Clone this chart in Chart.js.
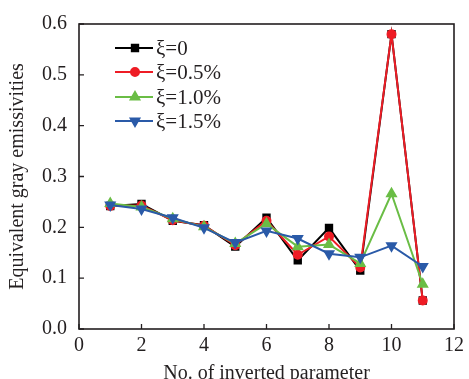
<!DOCTYPE html>
<html>
<head>
<meta charset="utf-8">
<script src="https://cdn.jsdelivr.net/npm/chart.js@4"></script>
<style>
  html, body { margin: 0; padding: 0; background: #fff; overflow: hidden; }
  #wrap { width: 469px; height: 386px; }
</style>
</head>
<body>
<div id="wrap"><canvas id="emis"></canvas></div>
<script>
var params = [1, 2, 3, 4, 5, 6, 7, 8, 9, 10, 11];
var xi0   = [0.242, 0.246, 0.213, 0.204, 0.162, 0.219, 0.135, 0.199, 0.115, 0.580, 0.056];
var xi05  = [0.242, 0.243, 0.214, 0.203, 0.165, 0.213, 0.146, 0.182, 0.121, 0.580, 0.056];
var xi10  = [0.247, 0.240, 0.217, 0.201, 0.168, 0.207, 0.162, 0.166, 0.129, 0.266, 0.088];
var xi15  = [0.244, 0.236, 0.219, 0.199, 0.170, 0.193, 0.178, 0.148, 0.141, 0.164, 0.123];
var seriesNames = ['ξ=0', 'ξ=0.5%', 'ξ=1.0%', 'ξ=1.5%'];
var xTicks = [0, 2, 4, 6, 8, 10, 12];
var yTicks = [0, 0.1, 0.2, 0.3, 0.4, 0.5, 0.6];

var serif = "'Liberation Serif', 'Times New Roman', serif";

function pts(vals) {
    return params.map(function (p, i) { return { x: p, y: vals[i] }; });
}

// box border + inward ticks on bottom/left, and the legend
var frame = {
    id: 'frame',
    afterDraw: function (chart) {
        var ctx = chart.ctx, a = chart.chartArea;
        var xs = chart.scales.x, ys = chart.scales.y;
        ctx.save();
        ctx.strokeStyle = '#231f20';
        ctx.lineWidth = 1.6;
        ctx.strokeRect(a.left, a.top, a.right - a.left, a.bottom - a.top);
        ctx.lineWidth = 1.3;
        ctx.beginPath();
        xTicks.forEach(function (t) {
            var px = xs.getPixelForValue(t);
            ctx.moveTo(px, a.bottom);
            ctx.lineTo(px, a.bottom - 5);
        });
        yTicks.forEach(function (t) {
            var py = ys.getPixelForValue(t);
            ctx.moveTo(a.left, py);
            ctx.lineTo(a.left + 5, py);
        });
        ctx.stroke();

        var rowY = [48, 72, 97, 121];
        chart.data.datasets.forEach(function (ds, i) {
            var y = rowY[i];
            ctx.strokeStyle = ds.borderColor;
            ctx.lineWidth = 2;
            ctx.beginPath();
            ctx.moveTo(115, y);
            ctx.lineTo(153, y);
            ctx.stroke();
            Chart.helpers.drawPoint(ctx, {
                pointStyle: ds.pointStyle,
                radius: ds.pointRadius,
                rotation: ds.pointRotation || 0,
                borderWidth: 1
            }, 135, y);
            ctx.fillStyle = ds.borderColor;
            ctx.fill();
            ctx.fillStyle = '#231f20';
            ctx.font = '21px ' + serif;
            ctx.textBaseline = 'middle';
            ctx.textAlign = 'left';
            ctx.fillText(ds.label, 156, y + 1);
        });
        ctx.restore();
    }
};

var colors = ['#000000', '#ee1c25', '#6abd45', '#2a5aa8'];
var styles = ['rect', 'circle', 'triangle', 'triangle'];
var radii = [4.5, 4, 5, 5];
var rots = [0, 0, 0, 180];
var allVals = [xi0, xi05, xi10, xi15];

var emisChart = new Chart(document.getElementById('emis'), {
    type: 'line',
    data: {
        datasets: allVals.map(function (v, i) {
            return {
                label: seriesNames[i],
                data: pts(v),
                order: 3 - i,
                borderColor: colors[i],
                backgroundColor: colors[i],
                pointBackgroundColor: colors[i],
                pointBorderColor: colors[i],
                borderWidth: 2,
                pointStyle: styles[i],
                pointRadius: radii[i],
                pointRotation: rots[i],
                tension: 0,
                clip: false
            };
        })
    },
    options: {
        responsive: true,
        maintainAspectRatio: false,
        animation: false,
        layout: { padding: { left: 0, top: 22, right: 11, bottom: 0 } },
        plugins: { legend: { display: false }, tooltip: { enabled: false } },
        scales: {
            x: {
                type: 'linear',
                min: 0,
                max: 12,
                afterFit: function (s) { s.height = 57; },
                afterBuildTicks: function (s) { s.ticks = xTicks.map(function (v) { return { value: v }; }); },
                grid: { display: false, drawTicks: false },
                border: { display: false },
                ticks: { color: '#231f20', padding: 5, font: { family: serif, size: 20 } },
                title: {
                    display: true,
                    text: 'No. of inverted parameter',
                    color: '#231f20',
                    padding: { top: 0, bottom: 0 },
                    font: { family: serif, size: 20 }
                }
            },
            y: {
                min: 0,
                max: 0.6,
                afterFit: function (s) { s.width = 79; },
                afterBuildTicks: function (s) { s.ticks = yTicks.map(function (v) { return { value: v }; }); },
                grid: { display: false, drawTicks: false },
                border: { display: false },
                ticks: {
                    color: '#231f20',
                    padding: 12,
                    font: { family: serif, size: 20 },
                    callback: function (v) { return Number(v).toFixed(1); }
                },
                title: {
                    display: true,
                    text: 'Equivalent gray emissivities',
                    color: '#231f20',
                    padding: { top: 6, bottom: 0 },
                    font: { family: serif, size: 20 }
                }
            }
        }
    },
    plugins: [frame]
});
</script>
</body>
</html>
